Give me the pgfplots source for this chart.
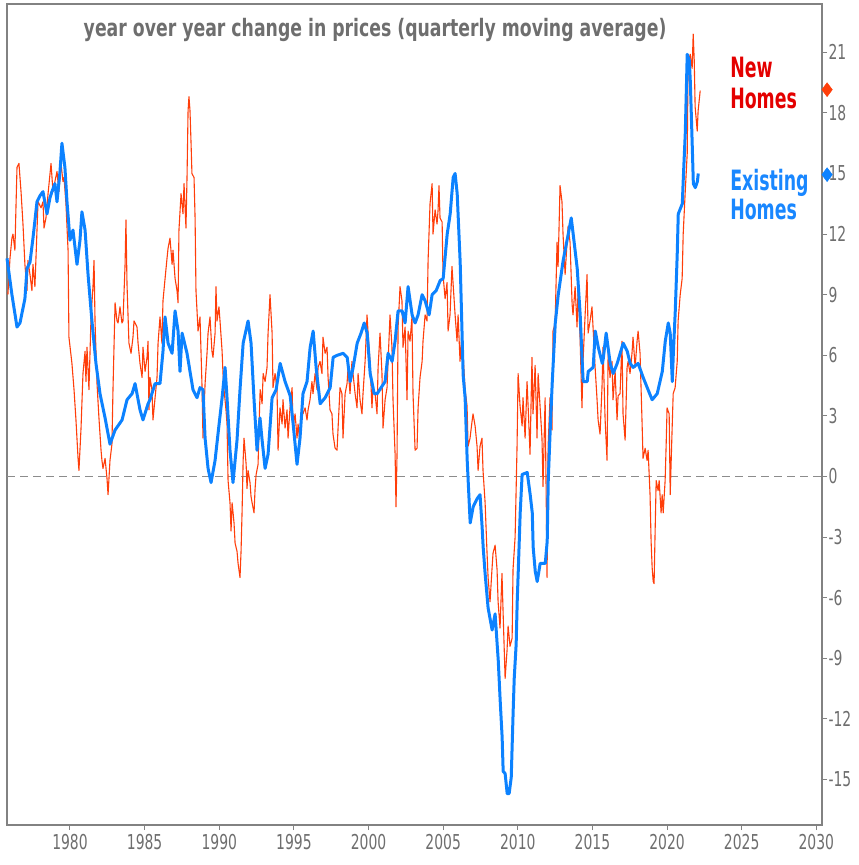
\documentclass[border=0pt]{standalone}
\usepackage{fontspec}
\setmainfont{DejaVu Sans}[FakeStretch=0.68]
\newfontfamily\legfont{DejaVu Sans}[FakeStretch=0.62]
\newfontfamily\titfont{DejaVu Sans}[FakeStretch=0.72]
\usepackage{pgfplots}
\pgfplotsset{compat=1.18}
\definecolor{newred}{RGB}{255,62,10}
\definecolor{exblue}{RGB}{12,130,255}
\definecolor{legred}{RGB}{228,0,0}
\definecolor{legblue}{RGB}{25,135,255}
\definecolor{txtgray}{RGB}{110,110,110}
\definecolor{axgray}{RGB}{130,130,130}
\definecolor{dashgray}{RGB}{140,140,140}
\begin{document}
\begin{tikzpicture}
\path (-7bp,-40bp) rectangle (852bp,825bp);
\begin{axis}[
  at={(0,0)}, anchor=south west,
  scale only axis, width=815bp, height=821bp,
  xmin=1975.78, xmax=2030.38, ymin=-17.25, ymax=23.39,
  clip=false,
  axis line style={draw=axgray, line width=1.4bp},
  xtick={1980,1985,...,2030}, ytick={-15,-12,...,21},
  xtick pos=bottom, ytick pos=right,
  tick align=outside, major tick length=5bp,
  tick style={draw=axgray, line width=1bp},
  /pgf/number format/assume math mode=true,
  /pgf/number format/1000 sep={},
  xticklabel style={font=\fontsize{20.5bp}{24bp}\selectfont, text=txtgray, yshift=-1bp},
  yticklabel style={font=\fontsize{20.5bp}{24bp}\selectfont, text=txtgray, anchor=west, xshift=-2bp},
]
\addplot[dashgray, line width=1.8bp, dash pattern=on 8bp off 5bp] coordinates {(1975.78,0) (2030.38,0)};
% New homes
\addplot[newred, line width=1.1bp, line join=round] coordinates {
(1975.84,9.0)(1975.98,10.8)(1976.11,11.8)(1976.18,12.0)(1976.31,11.2)(1976.38,13.3)(1976.45,15.3)(1976.58,15.5)(1976.72,14.1)(1976.85,12.5)(1976.98,10.5)(1977.12,9.2)(1977.18,10.7)(1977.32,10.0)(1977.45,9.2)(1977.52,10.5)(1977.65,9.4)(1977.79,12.2)(1977.86,13.6)(1978.06,13.3)(1978.19,13.6)(1978.26,12.3)(1978.39,12.8)(1978.53,14.0)(1978.73,15.5)(1978.86,14.1)(1978.99,14.6)(1979.13,15.1)(1979.26,14.1)(1979.40,15.5)(1979.53,14.6)(1979.60,14.8)(1979.73,13.5)(1979.87,11.2)(1979.93,6.9)(1980.13,5.6)(1980.27,4.3)(1980.40,2.8)(1980.54,0.9)(1980.60,0.3)(1980.74,2.4)(1980.87,5.1)(1981.01,6.2)(1981.07,4.7)(1981.14,6.4)(1981.27,4.3)(1981.41,7.9)(1981.54,9.4)(1981.61,10.7)(1981.68,7.6)(1981.81,4.6)(1981.94,2.9)(1982.08,1.3)(1982.14,0.8)(1982.21,0.4)(1982.35,0.9)(1982.48,-0.1)(1982.55,-0.9)(1982.68,0.8)(1982.81,1.6)(1982.88,4.3)(1983.02,8.6)(1983.15,7.7)(1983.22,7.6)(1983.35,8.4)(1983.48,7.6)(1983.55,7.7)(1983.69,10.5)(1983.75,12.7)(1983.82,9.5)(1983.95,6.6)(1984.09,6.1)(1984.22,6.9)(1984.29,7.7)(1984.49,7.4)(1984.56,6.6)(1984.69,5.6)(1984.83,4.9)(1984.89,6.4)(1985.03,5.2)(1985.16,5.9)(1985.23,6.7)(1985.29,3.3)(1985.36,4.9)(1985.49,4.3)(1985.56,2.8)(1985.70,3.9)(1985.83,4.9)(1985.90,6.6)(1986.03,7.9)(1986.16,6.6)(1986.23,8.7)(1986.37,9.8)(1986.50,10.8)(1986.57,11.3)(1986.70,11.8)(1986.84,10.5)(1986.90,11.2)(1987.04,9.8)(1987.17,9.2)(1987.24,8.6)(1987.30,12.2)(1987.44,14.0)(1987.57,13.0)(1987.64,14.5)(1987.77,12.3)(1987.84,14.8)(1987.91,18.1)(1987.97,18.8)(1988.04,18.1)(1988.11,16.5)(1988.17,15.0)(1988.31,14.8)(1988.38,12.8)(1988.44,9.2)(1988.51,8.2)(1988.58,7.2)(1988.71,7.9)(1988.84,4.6)(1988.91,1.9)(1989.05,4.6)(1989.18,6.1)(1989.25,7.1)(1989.38,7.9)(1989.51,6.2)(1989.58,5.9)(1989.72,7.1)(1989.78,9.4)(1989.85,7.7)(1989.98,8.4)(1990.05,7.7)(1990.19,6.2)(1990.25,5.1)(1990.32,4.3)(1990.45,3.3)(1990.52,2.6)(1990.59,-0.2)(1990.72,-1.3)(1990.79,-2.7)(1990.86,-1.3)(1990.99,-2.3)(1991.06,-3.3)(1991.19,-3.7)(1991.26,-4.3)(1991.39,-5.0)(1991.46,-3.7)(1991.53,-1.7)(1991.60,0.8)(1991.66,1.9)(1991.80,0.6)(1991.86,-0.6)(1991.93,0.3)(1992.06,-0.3)(1992.13,-1.0)(1992.20,-1.3)(1992.33,-1.8)(1992.40,-0.6)(1992.47,0.1)(1992.60,0.6)(1992.67,2.6)(1992.74,4.3)(1992.87,3.6)(1992.94,5.1)(1993.07,4.7)(1993.20,5.4)(1993.27,7.1)(1993.40,9.0)(1993.54,7.1)(1993.60,4.4)(1993.74,5.1)(1993.87,4.3)(1993.94,1.3)(1994.07,3.4)(1994.21,2.6)(1994.27,3.8)(1994.41,2.4)(1994.54,3.3)(1994.61,1.9)(1994.74,3.4)(1994.88,4.4)(1994.94,2.4)(1995.08,3.1)(1995.21,1.9)(1995.28,2.6)(1995.41,1.6)(1995.54,3.4)(1995.61,3.1)(1995.75,3.4)(1995.88,2.8)(1995.95,3.3)(1996.08,3.8)(1996.21,4.7)(1996.28,4.1)(1996.42,5.1)(1996.55,4.3)(1996.62,5.4)(1996.75,5.7)(1996.88,5.1)(1996.95,6.9)(1997.09,6.1)(1997.22,6.4)(1997.29,4.9)(1997.42,3.3)(1997.55,3.1)(1997.62,2.1)(1997.76,1.4)(1997.89,1.3)(1997.96,2.4)(1998.09,4.4)(1998.22,4.1)(1998.29,1.9)(1998.43,4.1)(1998.56,4.6)(1998.63,5.4)(1998.76,4.1)(1998.89,5.7)(1998.96,5.1)(1999.10,4.1)(1999.23,3.4)(1999.30,5.1)(1999.43,3.8)(1999.56,3.1)(1999.63,4.1)(1999.77,5.7)(1999.90,8.0)(1999.97,7.1)(2000.10,5.7)(2000.23,3.4)(2000.30,4.4)(2000.44,4.1)(2000.57,3.1)(2000.64,5.4)(2000.77,7.1)(2000.90,5.1)(2000.97,2.4)(2001.11,3.8)(2001.24,4.4)(2001.31,5.7)(2001.44,8.0)(2001.57,6.4)(2001.64,3.8)(2001.78,1.1)(2001.84,-1.5)(2001.91,1.1)(2001.98,7.4)(2002.11,9.4)(2002.24,8.7)(2002.31,6.4)(2002.45,7.4)(2002.58,3.8)(2002.65,7.2)(2002.78,6.7)(2002.91,7.9)(2002.98,4.1)(2003.12,1.3)(2003.25,1.4)(2003.32,3.4)(2003.45,4.9)(2003.59,5.7)(2003.65,6.7)(2003.79,8.0)(2003.92,7.7)(2003.99,10.7)(2004.12,13.5)(2004.26,14.5)(2004.32,12.0)(2004.46,13.2)(2004.59,12.5)(2004.66,13.2)(2004.72,14.4)(2004.79,12.8)(2004.93,12.6)(2004.99,10.0)(2005.13,8.8)(2005.26,9.6)(2005.33,7.2)(2005.46,8.0)(2005.59,10.4)(2005.66,9.6)(2005.80,8.0)(2005.93,6.7)(2006.00,8.0)(2006.13,5.7)(2006.26,7.2)(2006.33,6.1)(2006.47,4.3)(2006.60,3.5)(2006.67,1.5)(2006.80,1.9)(2006.93,2.7)(2007.00,3.1)(2007.14,2.5)(2007.27,1.5)(2007.34,0.3)(2007.47,1.5)(2007.60,1.9)(2007.67,0.3)(2007.81,-1.3)(2007.94,-3.8)(2008.01,-5.0)(2008.14,-6.2)(2008.27,-4.6)(2008.34,-3.8)(2008.48,-3.4)(2008.61,-4.6)(2008.68,-6.2)(2008.81,-7.5)(2008.94,-4.8)(2009.01,-6.6)(2009.15,-10.0)(2009.28,-8.6)(2009.35,-7.4)(2009.48,-8.4)(2009.62,-8.0)(2009.68,-4.6)(2009.82,-3.0)(2009.95,1.5)(2010.02,5.1)(2010.15,3.5)(2010.29,2.5)(2010.35,3.9)(2010.49,1.9)(2010.62,4.7)(2010.69,3.5)(2010.82,1.1)(2010.95,5.9)(2011.02,3.1)(2011.16,5.5)(2011.29,1.9)(2011.36,5.1)(2011.49,3.5)(2011.62,1.9)(2011.69,-0.5)(2011.83,3.9)(2011.96,-5.0)(2012.03,1.5)(2012.16,3.9)(2012.29,2.3)(2012.36,7.2)(2012.50,7.6)(2012.63,11.6)(2012.70,10.4)(2012.83,14.4)(2012.96,13.6)(2013.03,12.0)(2013.17,10.0)(2013.30,11.6)(2013.37,12.4)(2013.50,11.6)(2013.64,8.5)(2013.70,8.0)(2013.84,9.4)(2013.97,7.4)(2014.04,9.4)(2014.17,6.9)(2014.30,3.4)(2014.37,5.7)(2014.51,8.0)(2014.64,10.0)(2014.71,7.1)(2014.84,7.7)(2014.97,8.4)(2015.04,7.4)(2015.18,5.4)(2015.31,3.8)(2015.38,2.8)(2015.51,2.1)(2015.64,4.4)(2015.71,6.4)(2015.85,2.8)(2015.98,0.8)(2016.05,6.1)(2016.18,4.9)(2016.31,5.7)(2016.38,3.8)(2016.52,5.2)(2016.65,2.8)(2016.72,4.0)(2016.85,4.1)(2016.98,6.7)(2017.05,3.1)(2017.19,1.8)(2017.32,5.4)(2017.39,5.7)(2017.52,5.1)(2017.65,6.1)(2017.72,6.9)(2017.86,5.4)(2017.99,6.7)(2018.06,7.2)(2018.19,6.1)(2018.32,2.8)(2018.39,0.9)(2018.53,1.4)(2018.66,0.8)(2018.73,1.3)(2018.86,-0.9)(2018.93,-3.2)(2019.00,-4.5)(2019.07,-5.2)(2019.13,-5.3)(2019.20,-2.7)(2019.27,-0.2)(2019.40,-0.7)(2019.47,-0.2)(2019.60,-1.8)(2019.67,-0.9)(2019.74,-1.8)(2019.87,-0.2)(2019.94,1.6)(2020.00,3.4)(2020.14,3.1)(2020.21,-0.9)(2020.34,2.4)(2020.41,4.1)(2020.54,4.4)(2020.68,5.7)(2020.74,7.7)(2020.88,9.0)(2021.01,9.8)(2021.08,12.0)(2021.21,14.0)(2021.35,16.0)(2021.41,20.4)(2021.55,20.9)(2021.68,20.2)(2021.75,21.9)(2021.82,20.6)(2021.88,18.3)(2022.02,17.1)(2022.08,18.1)(2022.22,19.1)
};
% Existing homes
\addplot[exblue, line width=3bp, line join=round] coordinates {
(1975.78,10.8)(1976.11,9.0)(1976.45,7.4)(1976.65,7.6)(1976.98,8.8)(1977.12,10.3)(1977.32,10.6)(1977.52,11.8)(1977.79,13.6)(1977.99,13.9)(1978.19,14.1)(1978.46,13.0)(1978.66,13.8)(1978.79,14.1)(1978.99,14.5)(1979.13,13.6)(1979.33,15.1)(1979.46,16.5)(1979.66,15.3)(1979.80,13.6)(1980.00,11.7)(1980.20,12.2)(1980.47,10.5)(1980.67,11.7)(1980.80,13.1)(1981.01,12.2)(1981.21,10.0)(1981.47,7.7)(1981.74,5.6)(1982.01,4.1)(1982.35,2.9)(1982.68,1.6)(1983.02,2.3)(1983.49,2.8)(1983.82,3.8)(1984.16,4.1)(1984.36,4.6)(1984.69,3.3)(1984.89,2.8)(1985.23,3.6)(1985.36,3.8)(1985.70,4.6)(1986.03,4.6)(1986.23,6.2)(1986.37,7.9)(1986.57,6.6)(1986.84,6.1)(1987.04,8.2)(1987.24,7.2)(1987.37,5.2)(1987.51,7.1)(1987.84,6.1)(1988.24,4.3)(1988.51,3.9)(1988.71,4.4)(1988.91,4.3)(1989.05,1.9)(1989.25,0.4)(1989.45,-0.3)(1989.72,0.8)(1989.99,2.6)(1990.19,3.9)(1990.39,5.4)(1990.52,3.9)(1990.72,1.3)(1990.92,-0.3)(1991.19,1.8)(1991.39,4.3)(1991.60,6.6)(1991.93,7.7)(1992.13,6.6)(1992.33,3.8)(1992.53,1.3)(1992.73,2.9)(1992.87,1.8)(1993.07,0.4)(1993.27,1.1)(1993.54,3.9)(1993.81,4.3)(1994.08,5.6)(1994.41,4.7)(1994.75,4.0)(1994.95,2.6)(1995.21,0.6)(1995.41,1.9)(1995.61,4.1)(1995.88,4.7)(1996.09,6.4)(1996.29,7.2)(1996.49,5.4)(1996.76,3.6)(1997.09,3.9)(1997.43,4.4)(1997.63,5.9)(1997.90,6.0)(1998.30,6.1)(1998.57,5.9)(1998.77,4.7)(1998.97,5.4)(1999.24,6.6)(1999.50,7.1)(1999.71,7.6)(1999.91,7.1)(2000.11,5.1)(2000.38,4.1)(2000.58,4.1)(2000.84,4.4)(2001.11,4.7)(2001.31,6.1)(2001.58,5.7)(2001.78,6.7)(2001.98,8.2)(2002.25,8.2)(2002.45,7.6)(2002.65,9.4)(2002.92,8.0)(2003.12,7.6)(2003.32,8.0)(2003.59,9.0)(2003.79,8.7)(2004.06,8.0)(2004.26,9.0)(2004.53,9.2)(2004.80,9.7)(2005.00,9.8)(2005.27,12.0)(2005.47,13.0)(2005.67,14.8)(2005.80,15.0)(2005.94,14.0)(2006.14,10.6)(2006.34,5.0)(2006.47,3.9)(2006.61,0.8)(2006.81,-2.3)(2007.01,-1.5)(2007.27,-1.1)(2007.47,-0.9)(2007.61,-2.5)(2007.68,-3.5)(2007.81,-4.8)(2008.01,-6.5)(2008.28,-7.6)(2008.48,-6.8)(2008.69,-9.1)(2008.82,-11.1)(2008.95,-12.9)(2009.02,-14.6)(2009.15,-14.7)(2009.29,-15.7)(2009.42,-15.7)(2009.56,-14.9)(2009.69,-11.6)(2009.76,-10.0)(2009.89,-8.3)(2009.96,-6.2)(2010.03,-4.7)(2010.16,-1.8)(2010.29,0.1)(2010.63,0.2)(2010.83,-0.9)(2010.97,-1.8)(2011.03,-3.5)(2011.17,-4.7)(2011.30,-5.2)(2011.50,-4.3)(2011.84,-4.3)(2011.97,-3.2)(2012.04,-0.2)(2012.17,2.3)(2012.31,4.7)(2012.51,7.6)(2012.71,9.0)(2013.04,10.7)(2013.38,12.0)(2013.58,12.8)(2013.71,12.0)(2013.98,10.3)(2014.18,8.0)(2014.32,5.6)(2014.38,4.7)(2014.65,4.7)(2014.72,5.2)(2015.05,5.4)(2015.19,7.2)(2015.39,6.4)(2015.66,5.6)(2015.72,5.8)(2015.92,7.1)(2016.19,5.6)(2016.39,5.1)(2016.66,5.6)(2016.86,6.1)(2017.06,6.6)(2017.33,6.2)(2017.53,5.6)(2017.73,5.4)(2018.06,5.6)(2018.40,4.9)(2018.67,4.4)(2019.00,3.8)(2019.34,4.1)(2019.68,5.2)(2019.88,6.7)(2020.08,7.6)(2020.21,7.1)(2020.35,4.7)(2020.42,6.1)(2020.55,8.2)(2020.68,11.0)(2020.75,13.0)(2021.02,13.5)(2021.09,14.8)(2021.22,17.0)(2021.35,20.9)(2021.49,20.6)(2021.56,19.5)(2021.69,16.3)(2021.76,14.5)(2021.89,14.3)(2022.03,14.6)(2022.09,15.0)
};
% last-value markers on the right axis
\addplot[only marks, mark=diamond*, mark size=7bp, mark options={fill=newred, draw=newred}] coordinates {(2030.72,19.15)};
\addplot[only marks, mark=diamond*, mark size=7bp, mark options={fill=exblue, draw=exblue}] coordinates {(2030.72,14.94)};
% title
\node[anchor=base, text=txtgray, font=\titfont\fontsize{24bp}{28bp}\selectfont\bfseries] at (axis cs:2000.44,21.76) {year over year change in prices (quarterly moving average)};
% labels
\node[anchor=base west, inner sep=0pt, text=legred, font=\legfont\fontsize{28bp}{32bp}\selectfont\bfseries] at (axis cs:2024.22,19.73) {New};
\node[anchor=base west, inner sep=0pt, text=legred, font=\legfont\fontsize{28bp}{32bp}\selectfont\bfseries] at (axis cs:2024.22,18.24) {Homes};
\node[anchor=base west, inner sep=0pt, text=legblue, font=\legfont\fontsize{28bp}{32bp}\selectfont\bfseries] at (axis cs:2024.22,14.18) {Existing};
\node[anchor=base west, inner sep=0pt, text=legblue, font=\legfont\fontsize{28bp}{32bp}\selectfont\bfseries] at (axis cs:2024.22,12.70) {Homes};
\end{axis}
\end{tikzpicture}
\end{document}
